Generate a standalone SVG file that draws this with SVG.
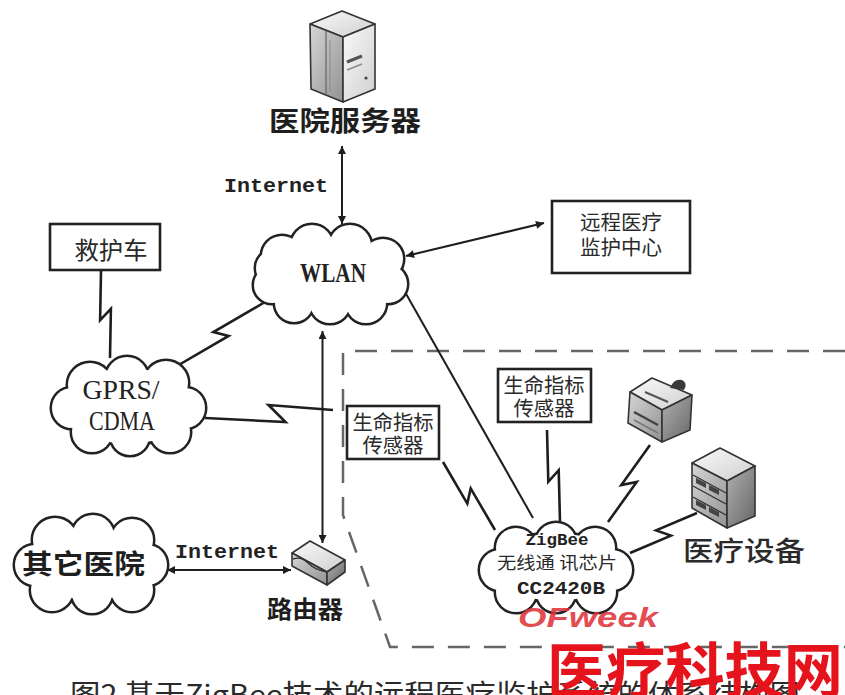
<svg xmlns="http://www.w3.org/2000/svg" xmlns:xlink="http://www.w3.org/1999/xlink" width="845" height="695" viewBox="0 0 845 695">
  <style>
    .cjk { font-family: "Noto Sans CJK SC", "Noto Sans", sans-serif; fill: #2a2a2a; }
    .hd { font-weight: 700; fill: #1e1e1e; }
    .mono { font-family: "Liberation Mono", "DejaVu Sans Mono", monospace; font-weight: 700; fill: #222; }
    .serif { font-family: "Liberation Serif", "DejaVu Serif", serif; fill: #222; }
    .box { fill: #fff; stroke: #222; stroke-width: 2.6; }
    .cloud-edge { fill: #222; stroke: #222; stroke-width: 5; }
    .cloud-body { fill: #fff; stroke: none; }
    .link { fill: none; stroke: #1e1e1e; stroke-width: 2; }
    .bolt { fill: none; stroke: #1e1e1e; stroke-width: 2.6; stroke-linejoin: miter; }
    .zone { fill: none; stroke: #666; stroke-width: 2.5; stroke-dasharray: 22 14; }
    .ico { stroke: #333; stroke-width: 1.6; stroke-linejoin: round; }
    .mark { fill: #e5141c; font-family: "Noto Sans CJK SC", "Liberation Sans", sans-serif; font-weight: 700; }
  </style>
  <defs>
    <marker id="arrow" viewBox="0 0 10 10" refX="10" refY="5" markerWidth="11" markerHeight="8" markerUnits="userSpaceOnUse" orient="auto-start-reverse">
      <path d="M0,0 L10,5 L0,10 z" fill="#1e1e1e"/>
    </marker>
    <linearGradient id="g-light" x1="0" y1="0" x2="1" y2="1">
      <stop offset="0" stop-color="#fafafa"/>
      <stop offset="1" stop-color="#cfcfcf"/>
    </linearGradient>
    <linearGradient id="g-mid" x1="0" y1="0" x2="1" y2="1">
      <stop offset="0" stop-color="#d6d6d6"/>
      <stop offset="1" stop-color="#929292"/>
    </linearGradient>
    <linearGradient id="g-dark" x1="0" y1="0" x2="1" y2="1">
      <stop offset="0" stop-color="#b0b0b0"/>
      <stop offset="1" stop-color="#666"/>
    </linearGradient>
    <!-- cloud silhouettes: drawn twice, once thick for the rim, once white for the body -->
    <g id="shape-wlan">
      <ellipse cx="331" cy="274" rx="58" ry="34"/>
      <circle cx="282" cy="256" r="20"/><circle cx="312" cy="246" r="21"/>
      <circle cx="350" cy="246" r="21"/><circle cx="383" cy="259" r="20"/>
      <circle cx="388" cy="284" r="19"/><circle cx="366" cy="303" r="20"/>
      <circle cx="330" cy="303" r="20"/><circle cx="294" cy="303" r="19"/>
      <circle cx="272" cy="285" r="18"/><circle cx="274" cy="268" r="18"/>
    </g>
    <g id="shape-gprs">
      <ellipse cx="128" cy="406" rx="62" ry="38"/>
      <circle cx="90" cy="385" r="22"/><circle cx="127" cy="378" r="21"/>
      <circle cx="166" cy="383" r="22"/><circle cx="185" cy="408" r="20"/>
      <circle cx="170" cy="432" r="20"/><circle cx="130" cy="436" r="19"/>
      <circle cx="92" cy="432" r="20"/><circle cx="72" cy="408" r="20"/>
    </g>
    <g id="shape-other">
      <ellipse cx="91" cy="564" rx="60" ry="36"/>
      <circle cx="55" cy="540" r="22"/><circle cx="93" cy="536" r="21"/>
      <circle cx="132" cy="540" r="21"/><circle cx="147" cy="565" r="20"/>
      <circle cx="132" cy="590" r="21"/><circle cx="92" cy="593" r="20"/>
      <circle cx="52" cy="590" r="21"/><circle cx="35" cy="565" r="20"/>
    </g>
    <g id="shape-zigbee">
      <ellipse cx="556" cy="567" rx="58" ry="34"/>
      <circle cx="516" cy="548" r="20"/><circle cx="556" cy="543" r="20"/>
      <circle cx="595" cy="548" r="20"/><circle cx="612" cy="570" r="20"/>
      <circle cx="596" cy="592" r="20"/><circle cx="556" cy="593" r="19"/>
      <circle cx="516" cy="592" r="20"/><circle cx="500" cy="570" r="20"/>
    </g>
  </defs>

  <rect width="845" height="695" fill="#fff"/>

  <!-- body-area sensor network boundary -->
  <path id="sensor-zone" class="zone" d="M845,351 H343 V515 L390,647 H845"/>

  <!-- connectors -->
  <g id="connectors">
    <path class="link" d="M342,146 V224" marker-start="url(#arrow)" marker-end="url(#arrow)"/>
    <path class="link" d="M406,256 L544,223" marker-start="url(#arrow)" marker-end="url(#arrow)"/>
    <path class="link" d="M322.5,331 V543" marker-start="url(#arrow)" marker-end="url(#arrow)"/>
    <path class="link" d="M167,570 H291" marker-start="url(#arrow)" marker-end="url(#arrow)"/>
    <path class="link" d="M405,292 L533,518"/>
    <!-- wireless links -->
    <polyline class="bolt" points="101,271 100.1,320.1 110.9,308.9 110,358"/>
    <polyline class="bolt" points="177,366 228.6,335.9 213.4,332.1 265,302"/>
    <polyline class="bolt" points="205,418 285.5,422 268.5,405 333,410"/>
    <polyline class="bolt" points="443,462 467.3,503.6 470.7,488.4 495,530"/>
    <polyline class="bolt" points="547,430 548.3,481.8 558.7,470.2 560,522"/>
    <polyline class="bolt" points="650,445 621.3,485 636.7,482 608,522"/>
    <polyline class="bolt" points="697,513 656.1,530.4 670.9,535.6 630,553"/>
  </g>

  <!-- hospital server -->
  <g id="hospital-server">
    <polygon class="ico" points="310,24 342,11 375,24 343,37" fill="url(#g-light)"/>
    <polygon class="ico" points="310,24 343,37 343,102 311,89" fill="url(#g-mid)"/>
    <polygon class="ico" points="343,37 375,24 375,89 343,102" fill="url(#g-light)"/>
    <line x1="326" y1="31" x2="326" y2="95" stroke="#666" stroke-width="1.2"/>
    <line x1="330" y1="40" x2="330" y2="92" stroke="#888" stroke-width="1"/>
    <line x1="347" y1="62" x2="362" y2="56" stroke="#555" stroke-width="3"/>
    <line x1="347" y1="70" x2="362" y2="64" stroke="#888" stroke-width="1.5"/>
    <circle cx="366" cy="78" r="1.6" fill="#444"/>
    <text class="cjk hd" x="269" y="131" font-size="27" textLength="152" lengthAdjust="spacingAndGlyphs">医院服务器</text>
  </g>
  <text class="mono" x="224" y="192" font-size="20" textLength="104" lengthAdjust="spacingAndGlyphs">Internet</text>

  <!-- WLAN -->
  <g id="wlan">
    <use href="#shape-wlan" class="cloud-edge"/>
    <use href="#shape-wlan" class="cloud-body"/>
    <text class="serif" x="333" y="282" font-size="27" font-weight="700" text-anchor="middle" textLength="66" lengthAdjust="spacingAndGlyphs">WLAN</text>
  </g>

  <!-- remote monitoring centre -->
  <g id="monitor-center">
    <rect class="box" x="552" y="201" width="138" height="72"/>
    <text class="cjk" x="621" y="230" font-size="20" text-anchor="middle" textLength="82" lengthAdjust="spacingAndGlyphs">远程医疗</text>
    <text class="cjk" x="621" y="255" font-size="20" text-anchor="middle" textLength="82" lengthAdjust="spacingAndGlyphs">监护中心</text>
  </g>

  <!-- ambulance -->
  <g id="ambulance">
    <rect class="box" x="50" y="224" width="110" height="46"/>
    <text class="cjk" x="111" y="259" font-size="24" text-anchor="middle" textLength="73" lengthAdjust="spacingAndGlyphs">救护车</text>
  </g>

  <!-- GPRS / CDMA -->
  <g id="gprs-cdma">
    <use href="#shape-gprs" class="cloud-edge"/>
    <use href="#shape-gprs" class="cloud-body"/>
    <text class="serif" x="121" y="399" font-size="27" text-anchor="middle" textLength="77" lengthAdjust="spacingAndGlyphs">GPRS/</text>
    <text class="serif" x="122" y="430" font-size="27" text-anchor="middle" textLength="66" lengthAdjust="spacingAndGlyphs">CDMA</text>
  </g>

  <!-- other hospitals -->
  <g id="other-hospital">
    <use href="#shape-other" class="cloud-edge"/>
    <use href="#shape-other" class="cloud-body"/>
    <text class="cjk hd" x="22" y="574" font-size="27" textLength="123" lengthAdjust="spacingAndGlyphs">其它医院</text>
  </g>
  <text class="mono" x="175" y="558" font-size="20" textLength="104" lengthAdjust="spacingAndGlyphs">Internet</text>

  <!-- router -->
  <g id="router">
    <polygon class="ico" points="292,553 310,541 345,560 327,572" fill="url(#g-light)"/>
    <polygon class="ico" points="292,553 327,572 327,585 292,566" fill="url(#g-mid)"/>
    <polygon class="ico" points="327,572 345,560 345,572 327,585" fill="url(#g-dark)"/>
    <path d="M293,559 q8,-3 15,4 t19,9" fill="none" stroke="#333" stroke-width="1.4"/>
    <text class="cjk hd" x="267" y="618" font-size="24" textLength="76" lengthAdjust="spacingAndGlyphs">路由器</text>
  </g>

  <!-- vital-sign sensors -->
  <g id="sensor-1">
    <rect class="box" x="347" y="406" width="92" height="53"/>
    <text class="cjk" x="393" y="430" font-size="20" text-anchor="middle" textLength="81" lengthAdjust="spacingAndGlyphs">生命指标</text>
    <text class="cjk" x="393" y="453" font-size="20" text-anchor="middle" textLength="61" lengthAdjust="spacingAndGlyphs">传感器</text>
  </g>
  <g id="sensor-2">
    <rect class="box" x="498" y="369" width="93" height="53"/>
    <text class="cjk" x="544" y="393" font-size="20" text-anchor="middle" textLength="81" lengthAdjust="spacingAndGlyphs">生命指标</text>
    <text class="cjk" x="544" y="416" font-size="20" text-anchor="middle" textLength="61" lengthAdjust="spacingAndGlyphs">传感器</text>
  </g>

  <!-- printer -->
  <g id="printer">
    <polygon class="ico" points="630,392 652,378 692,395 662,410" fill="url(#g-light)"/>
    <polygon class="ico" points="630,392 662,410 662,442 628,423" fill="url(#g-mid)"/>
    <polygon class="ico" points="662,410 692,395 690,430 662,442" fill="url(#g-dark)"/>
    <path d="M670,388 q4,-10 12,-8 q6,3 2,10 z" fill="#3a3a3a"/>
    <line x1="645" y1="392" x2="668" y2="402" stroke="#555" stroke-width="2"/>
    <line x1="634" y1="412" x2="658" y2="425" stroke="#444" stroke-width="2.5"/>
    <line x1="634" y1="420" x2="658" y2="433" stroke="#777" stroke-width="1.5"/>
  </g>

  <!-- medical equipment -->
  <g id="medical-device">
    <polygon class="ico" points="692,463 720,448 755,466 727,481" fill="url(#g-light)"/>
    <polygon class="ico" points="692,463 727,481 727,528 692,508" fill="url(#g-mid)"/>
    <polygon class="ico" points="727,481 755,466 755,516 727,528" fill="url(#g-dark)"/>
    <g stroke="#333" stroke-width="1.3">
      <line x1="693" y1="475" x2="726" y2="493"/>
      <line x1="693" y1="486" x2="726" y2="504"/>
      <line x1="693" y1="497" x2="726" y2="515"/>
    </g>
    <g fill="#444">
      <polygon points="696,478 706,483 706,488 696,483"/>
      <polygon points="709,485 719,490 719,495 709,490"/>
      <polygon points="696,500 706,505 706,510 696,505"/>
      <polygon points="709,507 719,512 719,517 709,512"/>
    </g>
    <text class="cjk" x="683" y="561" font-size="27" font-weight="500" textLength="122" lengthAdjust="spacingAndGlyphs">医疗设备</text>
  </g>

  <!-- ZigBee transceiver -->
  <g id="zigbee">
    <use href="#shape-zigbee" class="cloud-edge"/>
    <use href="#shape-zigbee" class="cloud-body"/>
    <text class="mono" x="557" y="545" font-size="16" font-weight="400" text-anchor="middle" textLength="63" lengthAdjust="spacingAndGlyphs">ZigBee</text>
    <text class="cjk" x="557" y="569" font-size="17" text-anchor="middle" textLength="120" lengthAdjust="spacingAndGlyphs">无线通 讯芯片</text>
    <text class="mono" x="561" y="594" font-size="18" text-anchor="middle" textLength="88" lengthAdjust="spacingAndGlyphs">CC2420B</text>
  </g>

  <!-- caption and site marks -->
  <text class="cjk" x="70" y="705" font-size="28" fill="#333" textLength="730" lengthAdjust="spacingAndGlyphs">图2 基于ZigBee技术的远程医疗监护系统的体系结构图</text>
  <text x="518" y="627" font-family="Liberation Sans, sans-serif" font-size="28" font-weight="700" font-style="italic" fill="#e0333b" fill-opacity="0.9" textLength="140" lengthAdjust="spacingAndGlyphs">OFweek</text>
  <text class="mark" x="547" y="693" font-size="60" textLength="296" lengthAdjust="spacingAndGlyphs">医疗科技网</text>
</svg>
